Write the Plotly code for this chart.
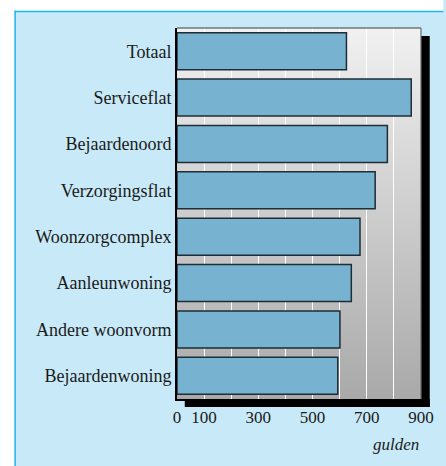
import base64
import plotly.graph_objects as go

categories = ["Totaal", "Serviceflat", "Bejaardenoord", "Verzorgingsflat",
              "Woonzorgcomplex", "Aanleunwoning", "Andere woonvorm", "Bejaardenwoning"]
values = [625, 864, 776, 731, 675, 643, 601, 593]
x_tickvals = [0, 100, 300, 500, 700, 900]
x_ticktext = ["0", "100", "300", "500", "700", "900"]
unit_label = "gulden"

W, H = 446, 466
L, R, T, B = 177, 18, 28, 67
PW, PH = W - L - R, H - T - B


def px2x(px):
    return (px - L) / PW


def px2y(py):
    return (H - B - py) / PH


FONT = "Liberation Serif, Times New Roman, DejaVu Serif, serif"
TXT = "#1a1a1a"

svg = ('<svg xmlns="http://www.w3.org/2000/svg" width="100" height="100" preserveAspectRatio="none">'
       '<defs><linearGradient id="g" x1="0" y1="0" x2="0" y2="1">'
       '<stop offset="0" stop-color="#F1F1F1"/><stop offset="1" stop-color="#A9A9A9"/>'
       '</linearGradient></defs><rect width="100" height="100" fill="url(#g)"/></svg>')
svg_uri = "data:image/svg+xml;base64," + base64.b64encode(svg.encode()).decode()

fig = go.Figure()
fig.add_trace(go.Bar(
    x=values, y=list(range(len(categories))), orientation="h",
    marker=dict(color="#77B3D1", line=dict(color="#1E2D36", width=1.5)),
    width=0.8, hoverinfo="x+y",
))

shapes = [
    # white outside strips
    dict(type="rect", xref="paper", yref="paper", x0=px2x(-5), x1=px2x(10), y0=px2y(H + 5), y1=px2y(-5),
         fillcolor="white", line=dict(width=0), layer="below"),
    dict(type="rect", xref="paper", yref="paper", x0=px2x(-5), x1=px2x(W + 5), y0=px2y(11), y1=px2y(-5),
         fillcolor="white", line=dict(width=0), layer="below"),
    # frame border
    dict(type="line", xref="paper", yref="paper", x0=px2x(10.5), x1=px2x(10.5), y0=px2y(H + 5), y1=px2y(10.5),
         line=dict(color="#1EB6F0", width=1.5), layer="below"),
    dict(type="line", xref="paper", yref="paper", x0=px2x(10), x1=px2x(W + 5), y0=px2y(11.5), y1=px2y(11.5),
         line=dict(color="#1EB6F0", width=1.5), layer="below"),
    # shadow
    dict(type="rect", xref="paper", yref="paper", x0=1, x1=px2x(L + PW + 9), y0=px2y(H - B + 8), y1=px2y(T + 8),
         fillcolor="black", line=dict(width=0), layer="below"),
    dict(type="rect", xref="paper", yref="paper", x0=px2x(L + 8), x1=px2x(L + PW + 9), y0=px2y(H - B + 8), y1=0,
         fillcolor="black", line=dict(width=0), layer="below"),
    # top and right border of plot area
    dict(type="line", xref="paper", yref="paper", x0=0, x1=1, y0=1, y1=1,
         line=dict(color="#3a3a3a", width=1.2), layer="above"),
    dict(type="line", xref="paper", yref="paper", x0=1, x1=1, y0=0, y1=1,
         line=dict(color="#6a6a6a", width=1.2), layer="above"),
]

fig.update_layout(
    width=W, height=H,
    margin=dict(l=L, r=R, t=T, b=B, pad=0),
    paper_bgcolor="#C8EAF8",
    plot_bgcolor="rgba(0,0,0,0)",
    showlegend=False,
    bargap=0.2,
    shapes=shapes,
    images=[dict(source=svg_uri, xref="paper", yref="paper", x=0, y=1, sizex=1, sizey=1,
                 sizing="stretch", layer="below", xanchor="left", yanchor="top")],
    annotations=[dict(text=unit_label, xref="paper", yref="paper", x=1, y=px2y(444),
                      xanchor="right", yanchor="middle", showarrow=False,
                      font=dict(family=FONT, size=17, color=TXT, style="italic"))],
    font=dict(family=FONT, size=17, color=TXT),
)
fig.update_xaxes(
    range=[0, 900], tickvals=x_tickvals, ticktext=x_ticktext,
    showgrid=True, gridcolor="white", gridwidth=1.2,
    minor=dict(dtick=100, tick0=0, showgrid=True, gridcolor="white", gridwidth=1.2),
    zeroline=False, showline=True, linecolor="black", linewidth=2,
    ticks="outside", ticklen=2, tickcolor="rgba(0,0,0,0)",
    tickfont=dict(family=FONT, size=17, color=TXT), fixedrange=True,
)
fig.update_yaxes(
    range=[len(categories) - 0.5, -0.5], tickvals=list(range(len(categories))), ticktext=categories,
    showgrid=False, zeroline=False, showline=True, linecolor="black", linewidth=2,
    ticks="", tickfont=dict(family=FONT, size=18, color=TXT), fixedrange=True,
)
fig.write_html("out.html", config={"displayModeBar": False},
               post_script="document.body.style.margin='0';document.body.style.padding='0';")
